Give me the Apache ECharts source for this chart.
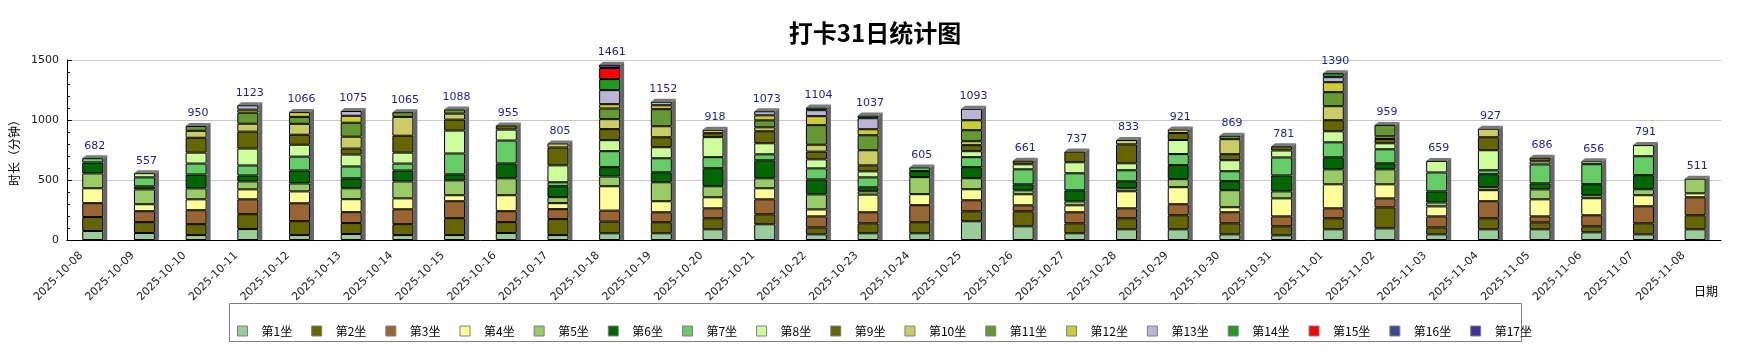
<!DOCTYPE html>
<html><head><meta charset="utf-8">
<script src="https://cdn.jsdelivr.net/npm/echarts@6/dist/echarts.min.js"></script>
<style>html,body{margin:0;padding:0;background:#fff}#c{width:1750px;height:360px}</style>
</head><body><div id="c"></div><script>
const dates = ['2025-10-08','2025-10-09','2025-10-10','2025-10-11','2025-10-12','2025-10-13','2025-10-14','2025-10-15','2025-10-16','2025-10-17','2025-10-18','2025-10-19','2025-10-20','2025-10-21','2025-10-22','2025-10-23','2025-10-24','2025-10-25','2025-10-26','2025-10-27','2025-10-28','2025-10-29','2025-10-30','2025-10-31','2025-11-01','2025-11-02','2025-11-03','2025-11-04','2025-11-05','2025-11-06','2025-11-07','2025-11-08'];
const seriesNames = ['第1坐','第2坐','第3坐','第4坐','第5坐','第6坐','第7坐','第8坐','第9坐','第10坐','第11坐','第12坐','第13坐','第14坐','第15坐','第16坐','第17坐'];
const s1  = [75,58,41,91,41,50,41,41,58,41,56,56,89,131,47,56,56,156,114,56,89,89,47,39,89,97,47,89,89,64,47,89];
const s2  = [116,91,91,124,116,91,91,141,91,133,97,92,92,83,58,83,92,83,125,83,92,117,92,75,92,175,58,92,58,50,92,117];
const s3  = [116,91,116,124,149,91,124,141,91,83,92,83,83,125,92,92,142,92,50,92,83,92,92,83,83,75,92,142,50,92,142,150];
const s4  = [124,58,91,83,99,108,91,50,133,50,203,92,92,92,58,147,92,92,92,58,142,142,42,150,200,117,83,92,142,142,92,33];
const s5  = [124,124,91,66,66,91,141,124,141,50,81,158,92,83,125,28,142,92,33,33,25,67,142,58,125,125,33,25,83,25,50,122];
const s6  = [91,25,116,50,108,83,91,50,124,91,78,83,150,150,125,33,50,92,50,92,58,117,75,133,100,50,92,108,50,92,117,0];
const s7  = [36,75,91,83,116,99,58,174,191,33,133,117,92,50,92,83,31,83,125,142,92,92,83,150,125,117,158,33,158,167,158,0];
const s8  = [0,35,91,141,99,99,91,191,91,141,92,92,167,92,75,50,0,50,42,92,58,117,92,58,92,50,96,167,25,24,93,0];
const s9  = [0,0,124,141,83,50,141,91,35,149,92,83,33,100,64,50,0,50,30,89,158,58,50,35,92,36,0,108,31,0,0,0];
const s10 = [0,0,58,66,91,99,157,50,0,34,83,92,28,33,58,126,0,33,0,0,36,30,125,0,117,22,0,71,0,0,0,0];
const s11 = [0,0,40,92,58,116,39,35,0,0,89,142,0,58,163,125,0,92,0,0,0,0,29,0,117,95,0,0,0,0,0,0];
const s12 = [0,0,0,25,40,58,0,0,0,0,36,33,0,42,75,50,0,83,0,0,0,0,0,0,83,0,0,0,0,0,0,0];
const s13 = [0,0,0,37,0,40,0,0,0,0,117,29,0,34,50,92,0,95,0,0,0,0,0,0,42,0,0,0,0,0,0,0];
const s14 = [0,0,0,0,0,0,0,0,0,0,92,0,0,0,22,22,0,0,0,0,0,0,0,0,33,0,0,0,0,0,0,0];
const s15 = [0,0,0,0,0,0,0,0,0,0,92,0,0,0,0,0,0,0,0,0,0,0,0,0,0,0,0,0,0,0,0,0];
const s16 = [0,0,0,0,0,0,0,0,0,0,28,0,0,0,0,0,0,0,0,0,0,0,0,0,0,0,0,0,0,0,0,0];
const s17 = [0,0,0,0,0,0,0,0,0,0,0,0,0,0,0,0,0,0,0,0,0,0,0,0,0,0,0,0,0,0,0,0];
const totals = [682,557,950,1123,1066,1075,1065,1088,955,805,1461,1152,918,1073,1104,1037,605,1093,661,737,833,921,869,781,1390,959,659,927,686,656,791,511];
const yTicks = [0,500,1000,1500];

const colors = ['#99CC99','#666600','#996633','#FFFF99','#99CC66','#006600','#66CC66','#CCFF99','#666600','#CCCC66','#669933','#CCCC33','#BBB5D5','#229922','#FF0000','#3B4A8A','#40309E'];
const allSeries = [s1,s2,s3,s4,s5,s6,s7,s8,s9,s10,s11,s12,s13,s14,s15,s16,s17];

const chart = echarts.init(document.getElementById('c'));
const BW = 21;
const barSeries = allSeries.map((arr, k) => ({
  name: seriesNames[k], type: 'bar', stack: 'total', barWidth: BW, z: 3,
  itemStyle: { color: colors[k], borderColor: '#000', borderWidth: 1 },
  emphasis: { disabled: true },
  data: arr.map(v => v === 0 ? '-' : v)
}));
const shell = {
  type: 'custom', z: 1, silent: true,
  data: totals.map((t, i) => [i, t]),
  renderItem(params, api) {
    const i = api.value(0), t = api.value(1);
    const top = api.coord([i, t]);
    const base = api.coord([i, 0]);
    const hw = BW / 2, dx = 4, dy = 3;
    const xl = top[0] - hw, xr = top[0] + hw, yt = top[1], yb = base[1];
    return { type: 'group', children: [
      { type: 'polygon', shape: { points: [[xr, yt], [xr + dx, yt - dy], [xr + dx, yb], [xr, yb]] }, style: { fill: '#666666' } },
      { type: 'polygon', shape: { points: [[xl, yt], [xl + dx, yt - dy], [xr + dx, yt - dy], [xr, yt]] }, style: { fill: '#7a7a7a' } },
      { type: 'text', x: top[0] + 2, y: yt - dy - 4, style: { text: String(t), fill: '#1c1c9c', font: '11px "DejaVu Sans"', align: 'center', verticalAlign: 'bottom', textAlign: 'center', textVerticalAlign: 'bottom' } }
    ]};
  }
};

chart.setOption({
  animation: false,
  backgroundColor: '#fff',
  title: { text: '打卡31日统计图', left: 'center', top: 16, textStyle: { fontSize: 24, fontWeight: 'bold', fontFamily: 'Noto Sans CJK SC', color: '#000' } },
  grid: { left: 61, right: 29, top: 60, bottom: 120, containLabel: false },
  legend: {
    data: seriesNames, left: 237, top: 324, padding: 0, icon: 'rect', itemWidth: 10, itemHeight: 10, itemGap: 19,
    itemStyle: { borderColor: '#808080', borderWidth: 1 },
    textStyle: { fontSize: 12, fontFamily: 'Noto Sans CJK SC', color: '#000', lineHeight: 14, padding: [0, 0, 0, 9] }
  },
  xAxis: {
    type: 'category', data: dates,
    axisLine: { lineStyle: { color: '#000', width: 1 } },
    axisTick: { inside: true, length: 5, lineStyle: { color: '#000' } },
    axisLabel: { rotate: 45, interval: 0, fontSize: 11, fontFamily: 'DejaVu Sans', color: '#222', margin: 10, verticalAlign: 'bottom', padding: [0, 11, 0, 0] }
  },
  yAxis: {
    type: 'value', min: yTicks[0], max: yTicks[yTicks.length - 1], interval: yTicks[1] - yTicks[0],
    name: '时长（分钟）', nameLocation: 'middle', nameGap: 33,
    nameTextStyle: { fontSize: 12, fontFamily: 'Noto Sans CJK SC', color: '#000' },
    axisLine: { show: true, lineStyle: { color: '#000' } },
    axisTick: { show: true, inside: true, length: 5, lineStyle: { color: '#000' } },
    minorTick: { show: true, splitNumber: 5, length: 3, lineStyle: { color: '#000' } },
    splitLine: { lineStyle: { color: '#c8c8c8' } },
    axisLabel: { fontSize: 11, fontFamily: 'DejaVu Sans', color: '#222', margin: 8, formatter: v => String(v) }
  },
  graphic: [
    { type: 'rect', shape: { x: 229.5, y: 303.5, width: 1292, height: 38 }, style: { fill: 'none', stroke: '#808080', lineWidth: 1 }, z: 0 },
    { type: 'text', x: 1718, y: 291, style: { text: '日期', font: '12px "Noto Sans CJK SC"', fill: '#000', align: 'right', verticalAlign: 'middle', textAlign: 'right', textVerticalAlign: 'middle' } }
  ],
  series: [shell].concat(barSeries)
});
</script></body></html>
